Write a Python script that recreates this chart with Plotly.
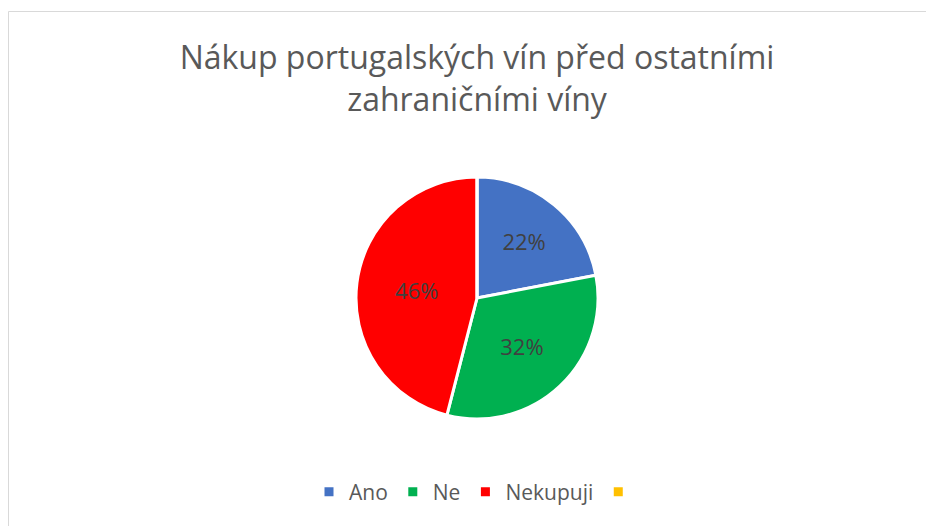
import plotly.graph_objects as go

labels = ["Ano", "Ne", "Nekupuji", " "]
values = [22, 32, 46, 0]
colors = ["#4472C4", "#00B050", "#FF0000", "#FFC000"]
title_text = "Nákup portugalských vín před ostatními<br>zahraničními víny"

# page body has an 8px margin; work in figure coordinates
W, H = 926, 518
cx, cy, r = 469, 290, 121

fig = go.Figure(go.Pie(
    labels=labels,
    values=values,
    sort=False,
    direction="clockwise",
    rotation=0,
    marker=dict(colors=colors, line=dict(color="white", width=3)),
    textinfo="percent",
    texttemplate="%{percent:.0%}",
    textposition="inside",
    insidetextorientation="horizontal",
    textfont=dict(family="Open Sans, Liberation Sans, sans-serif", size=22, color="#404040"),
    domain=dict(x=[(cx - r) / W, (cx + r) / W], y=[1 - (cy + r) / H, 1 - (cy - r) / H]),
    hoverinfo="label+percent",
))

fig.update_layout(
    width=W, height=H,
    margin=dict(l=0, r=0, t=0, b=0),
    paper_bgcolor="white",
    plot_bgcolor="white",
    font=dict(family="Open Sans, Liberation Sans, sans-serif", color="#595959"),
    title=dict(text=title_text, x=469 / W, xanchor="center", y=1 - 61 / H, yanchor="middle",
               font=dict(size=32, color="#595959")),
    legend=dict(orientation="h", x=471 / W, xanchor="center", y=1 - 484 / H, yanchor="middle",
                font=dict(size=21, color="#595959"), itemwidth=30, traceorder="normal"),
    shapes=[dict(type="rect", xref="paper", yref="paper",
                 x0=0.5 / W, x1=1.05, y0=-0.05, y1=1 - 3.5 / H,
                 line=dict(color="#D9D9D9", width=1), fillcolor="rgba(0,0,0,0)", layer="below")],
)

fig.write_html("out.html")
